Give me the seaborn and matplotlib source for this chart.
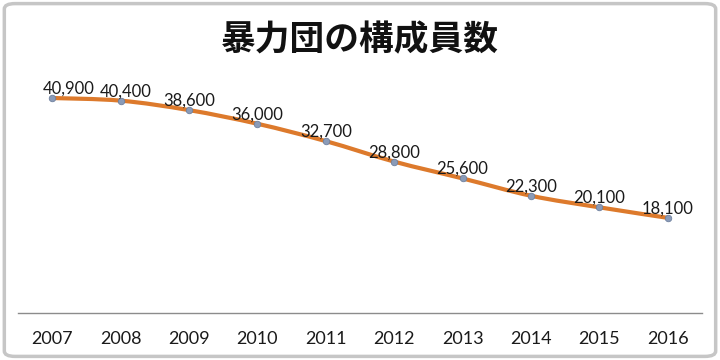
import numpy as np
import pandas as pd
import matplotlib
matplotlib.use('Agg')
import matplotlib.pyplot as plt
import seaborn as sns
from matplotlib.path import Path
from matplotlib.patches import PathPatch, FancyBboxPatch

# data
years = ['2007', '2008', '2009', '2010', '2011', '2012', '2013', '2014', '2015', '2016']
members = [40900, 40400, 38600, 36000, 32700, 28800, 25600, 22300, 20100, 18100]
title = '暴力団の構成員数'

sns.set_theme(style='white')
plt.rcParams['font.family'] = ['Lato', 'Noto Sans CJK JP', 'DejaVu Sans']

df = pd.DataFrame({'year': years, 'members': members})

fig = plt.figure(figsize=(7.2, 3.6), dpi=100)
ax = fig.add_axes([0.025, 0.1306, 0.95, 0.73])

# smoothed line (Catmull-Rom as Bezier segments, like Excel's smooth line)
xs = np.arange(len(members), dtype=float)
ys = np.array(members, dtype=float)
pts = np.column_stack([xs, ys])
ext = np.vstack([pts[0], pts, pts[-1]])
verts = [pts[0]]
codes = [Path.MOVETO]
for i in range(len(pts) - 1):
    p0, p1, p2, p3 = ext[i], ext[i + 1], ext[i + 2], ext[i + 3]
    c1 = p1 + (p2 - p0) / 6
    c2 = p2 - (p3 - p1) / 6
    verts += [c1, c2, p2]
    codes += [Path.CURVE4] * 3
ax.add_patch(PathPatch(Path(verts, codes), fill=False, ec='#dd7a2c',
                       lw=3.0, capstyle='round', zorder=2))

sns.scatterplot(data=df, x='year', y='members', ax=ax, s=22,
                color='#8a9bb8', edgecolor='#6f819f', linewidth=0.6, zorder=3)

label_dx = {0: 12, 1: 4}
for i, v in enumerate(members):
    ax.annotate(f'{v:,}', (i, v), xytext=(label_dx.get(i, 0), 1.0),
                textcoords='offset points', ha='center', va='bottom',
                fontsize=12, color='#1a1a1a', zorder=4)

ax.set_xlim(-0.5, len(years) - 0.5)
ax.set_ylim(0, 50000)
ax.set_yticks([])
ax.set_xlabel('')
ax.set_ylabel('')
for side in ['top', 'left', 'right']:
    ax.spines[side].set_visible(False)
ax.spines['bottom'].set_color('#8c8c8c')
ax.spines['bottom'].set_linewidth(1)
ax.tick_params(axis='x', length=0, pad=13, labelsize=13, colors='#1a1a1a')
ax.patch.set_alpha(0)

fig.text(0.5, 1 - 40 / 360, title, ha='center', va='center', fontsize=25,
         fontweight='bold', family=['Noto Sans CJK JP'], color='#111111')

# light rounded frame around the whole chart
fig.patches.append(FancyBboxPatch((0.006, 0.01), 0.988, 0.98,
                                  boxstyle='round,pad=0,rounding_size=0.015',
                                  transform=fig.transFigure, fill=False,
                                  ec='#c6c6c6', lw=2.5))

fig.savefig('out.png', dpi=100)
